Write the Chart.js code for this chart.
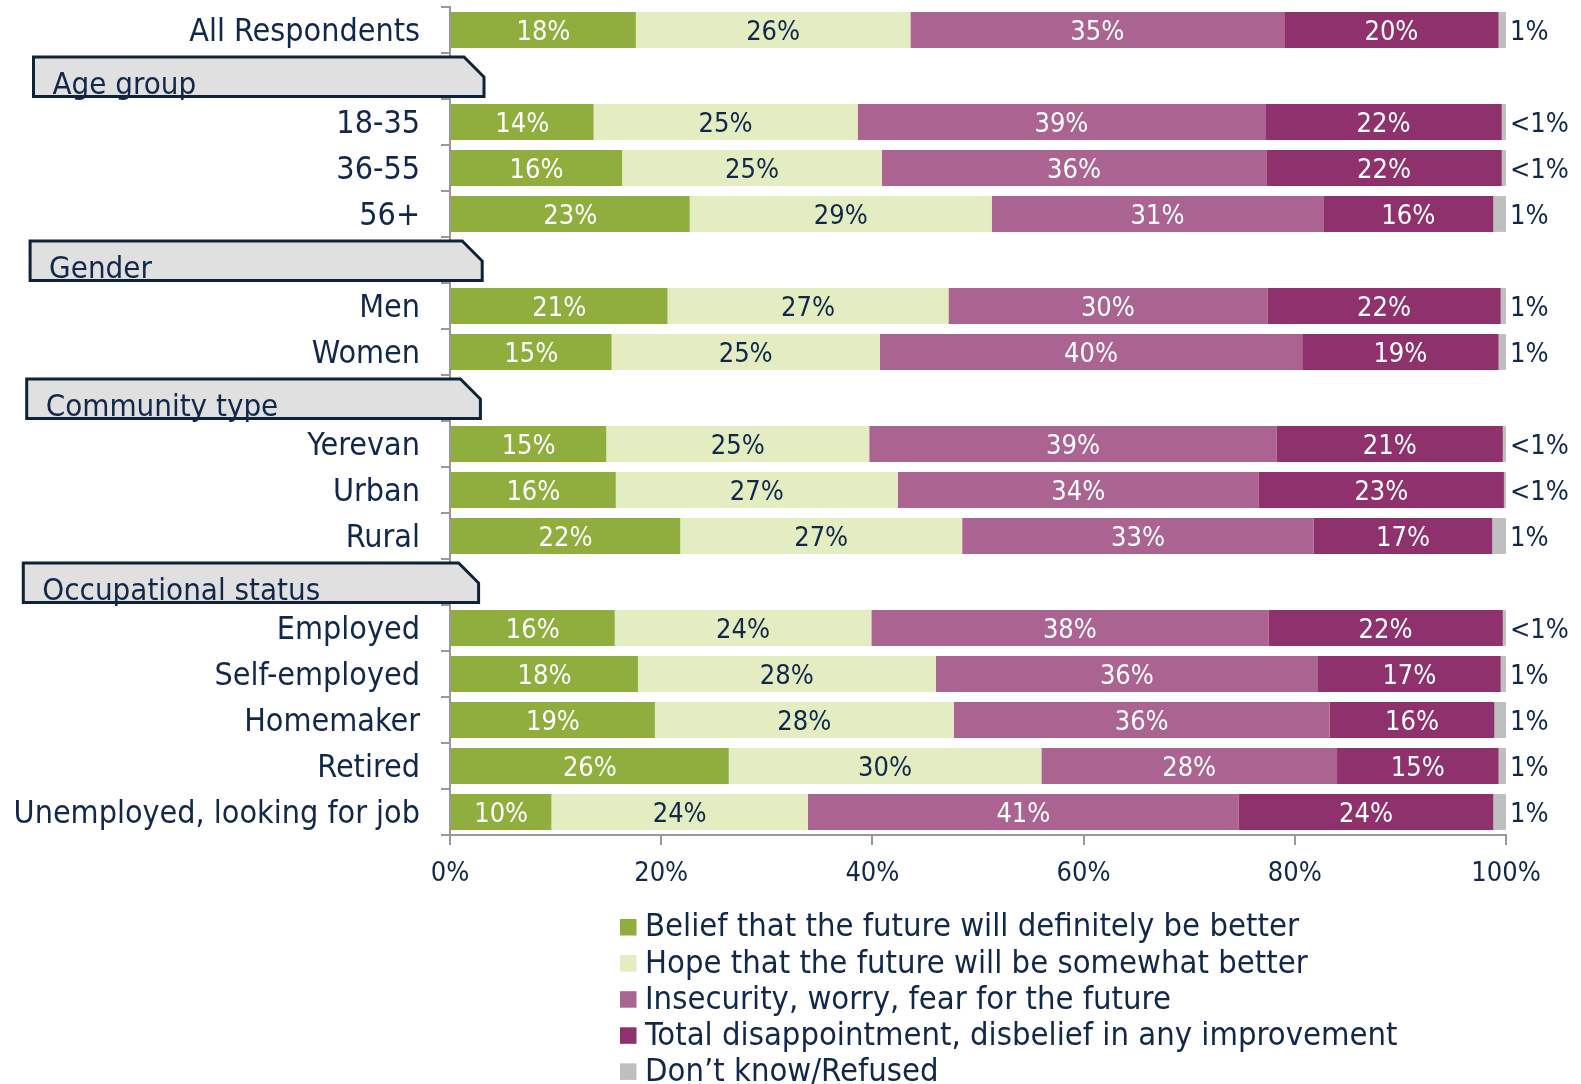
<!DOCTYPE html>
<html>
<head>
<meta charset="utf-8">
<script src="https://cdn.jsdelivr.net/npm/chart.js@4.4.1/dist/chart.umd.min.js"></script>
<style>
  body { margin: 0; background: #fff; }
  canvas { display: block; }
</style>
</head>
<body>
<canvas id="futureChart" width="1581" height="1084"></canvas>
<script>
// outlook on the future, by group (stacked 100% bars)
const categories = ['All Respondents', 'Age group', '18-35', '36-55', '56+', 'Gender', 'Men', 'Women',
  'Community type', 'Yerevan', 'Urban', 'Rural', 'Occupational status', 'Employed', 'Self-employed',
  'Homemaker', 'Retired', 'Unemployed, looking for job'];
const groupHeaders = ['Age group', 'Gender', 'Community type', 'Occupational status'];

const seriesNames = [
  'Belief that the future will definitely be better',
  'Hope that the future will be somewhat better',
  'Insecurity, worry, fear for the future',
  'Total disappointment, disbelief in any improvement',
  'Don\u2019t know/Refused'
];

const definitelyBetter = [17.6, null, 13.6, 16.3, 22.7, null, 20.6, 15.3, null, 14.8, 15.7, 21.8, null, 15.6, 17.8, 19.4, 26.4, 9.6];
const somewhatBetter   = [26.0, null, 25.0, 24.6, 28.6, null, 26.6, 25.4, null, 24.9, 26.7, 26.7, null, 24.3, 28.2, 28.3, 29.6, 24.3];
const insecurity       = [35.4, null, 38.6, 36.4, 31.4, null, 30.2, 40.0, null, 38.6, 34.2, 33.3, null, 37.6, 36.2, 35.6, 28.0, 40.8];
const disappointment   = [20.3, null, 22.4, 22.3, 16.1, null, 22.1, 18.6, null, 21.4, 23.2, 16.9, null, 22.2, 17.3, 15.6, 15.3, 24.1];
const dontKnow         = [0.7, null, 0.4, 0.4, 1.2, null, 0.5, 0.7, null, 0.3, 0.2, 1.3, null, 0.3, 0.5, 1.1, 0.7, 1.2];

const xTicks = [0, 20, 40, 60, 80, 100];

const colors = ['#8FAE3E', '#E3EDC1', '#AB6491', '#8E316C', '#BFBFBF'];
const navy = '#12284A';
const axisGrey = '#999999';
const FONT = "'DejaVu Sans Condensed', 'Liberation Sans', sans-serif";

Chart.defaults.font.family = FONT;
Chart.defaults.font.size = 30;
Chart.defaults.color = navy;

function fmt(v) {
  return Math.round(v) + '%';
}

// numbers on the bars, and the small grey share to the right of each bar
const barLabels = {
  id: 'barLabels',
  afterDatasetsDraw(chart) {
    const ctx = chart.ctx;
    ctx.save();
    ctx.font = '27px ' + FONT;
    ctx.textBaseline = 'middle';
    chart.data.datasets.forEach((ds, di) => {
      const meta = chart.getDatasetMeta(di);
      meta.data.forEach((el, i) => {
        const v = ds.data[i];
        if (v === null) return;
        if (di === 4) {
          ctx.fillStyle = navy;
          ctx.textAlign = 'left';
          ctx.fillText(v < 0.5 ? '<1%' : fmt(v), el.x + 4, el.y + 3);
        } else {
          ctx.fillStyle = di === 1 ? navy : '#ffffff';
          ctx.textAlign = 'center';
          ctx.fillText(fmt(v), (el.x + el.base) / 2, el.y + 3);
        }
      });
    });
    ctx.restore();
  }
};

// grey tab headers for each group + legend list under the axis
const groupTabs = {
  id: 'groupTabs',
  afterDraw(chart) {
    const ctx = chart.ctx;
    const y = chart.scales.y;
    ctx.save();
    groupHeaders.forEach((name, k) => {
      const yc = y.getPixelForValue(categories.indexOf(name));
      const top = yc - 19, bottom = yc + 20.5;
      const left = 33.5 - 3.4 * k, right = 484 - 1.8 * k, cut = 20;
      ctx.beginPath();
      ctx.moveTo(left, top);
      ctx.lineTo(right - cut, top);
      ctx.lineTo(right, top + cut);
      ctx.lineTo(right, bottom);
      ctx.lineTo(left, bottom);
      ctx.closePath();
      ctx.fillStyle = '#E0E0E0';
      ctx.fill();
      ctx.lineWidth = 3;
      ctx.strokeStyle = '#0F2236';
      ctx.stroke();
      ctx.font = '31px ' + FONT;
      ctx.fillStyle = navy;
      ctx.textAlign = 'left';
      ctx.textBaseline = 'alphabetic';
      ctx.fillText(name, left + 19, bottom - 3);
    });

    // legend
    ctx.font = '32.5px ' + FONT;
    ctx.textBaseline = 'middle';
    chart.data.datasets.forEach((ds, i) => {
      const cy = 927 + i * 36.1;
      ctx.fillStyle = ds.backgroundColor;
      ctx.fillRect(620, cy - 8, 16.5, 16.5);
      ctx.fillStyle = navy;
      ctx.fillText(ds.label, 645, cy + 1);
    });
    ctx.restore();
  }
};

const seriesData = [definitelyBetter, somewhatBetter, insecurity, disappointment, dontKnow];

new Chart(document.getElementById('futureChart').getContext('2d'), {
  type: 'bar',
  data: {
    labels: categories,
    datasets: seriesData.map((d, i) => ({
      label: seriesNames[i],
      data: d,
      backgroundColor: colors[i],
      borderWidth: 0,
      categoryPercentage: 1,
      barPercentage: 0.78
    }))
  },
  options: {
    indexAxis: 'y',
    responsive: false,
    animation: false,
    layout: { padding: { top: 7, right: 75, bottom: 194, left: 0 } },
    plugins: {
      legend: { display: false },
      tooltip: { enabled: false }
    },
    scales: {
      x: {
        stacked: true,
        min: 0,
        max: 100,
        afterBuildTicks: s => { s.ticks = xTicks.map(v => ({ value: v })); },
        afterFit: s => { s.height = 55; },
        ticks: { callback: v => v + '%', padding: 13, color: navy, font: { size: 27 } },
        grid: { drawOnChartArea: false, tickLength: 10, color: axisGrey, lineWidth: 2 },
        border: { color: axisGrey, width: 2 }
      },
      y: {
        stacked: true,
        afterFit: s => { s.width = 450; s.paddingTop = 0; s.paddingBottom = 0; },
        ticks: {
          padding: 21,
          labelOffset: 3,
          color: navy,
          font: { size: 32 },
          autoSkip: false,
          callback: (v, i) => groupHeaders.includes(categories[i]) ? '' : categories[i]
        },
        grid: { drawOnChartArea: false, tickLength: 9, color: axisGrey, lineWidth: 2, offset: true },
        border: { color: axisGrey, width: 2 }
      }
    }
  },
  plugins: [barLabels, groupTabs]
});
</script>
</body>
</html>
